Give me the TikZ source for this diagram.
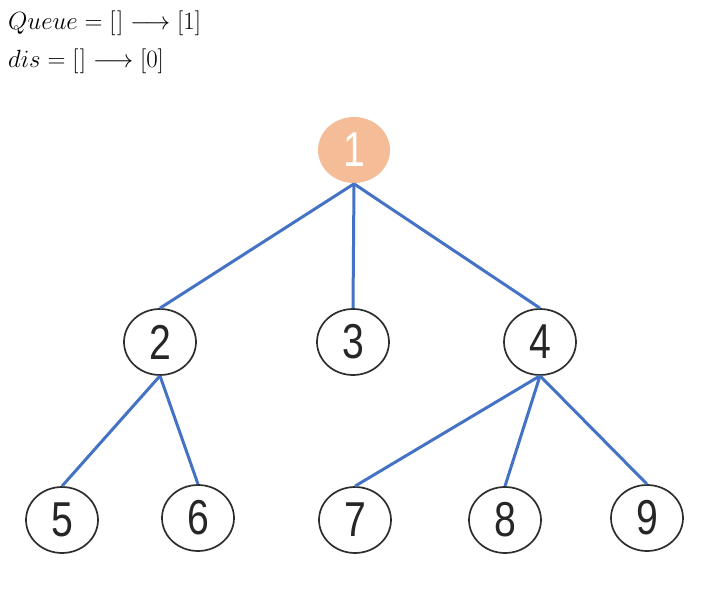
\documentclass[tikz,border=0pt]{standalone}
\usepackage{fontspec}
\usepackage{graphicx}
\newfontfamily\digitfont{Liberation Sans}
\usetikzlibrary{shapes.geometric}
\definecolor{edgeblue}{RGB}{68,114,196}
\definecolor{rootfill}{RGB}{245,188,152}
\definecolor{ringgray}{RGB}{45,45,45}
\newcommand{\dg}[1]{\scalebox{0.8}[1]{#1}}
\begin{document}
\begin{tikzpicture}[x=1pt,y=-1pt,
  vert/.style={ellipse,draw=ringgray,line width=1.7pt,minimum width=72pt,minimum height=66pt,inner sep=0pt,font=\digitfont\fontsize{49}{49}\selectfont,text=black!85},
  rootv/.style={vert,draw=none,fill=rootfill,text=white},
  edge/.style={edgeblue,line width=3pt},
  toptext/.style={anchor=base west,inner sep=0pt,font=\fontsize{25.5}{25.5}\selectfont}]
\useasboundingbox (0,0) rectangle (715,593);
\node[toptext] (q) at (8,30) {$Queue=[\mkern1mu]\longrightarrow[1]$};
\node[toptext] (d) at (8,68) {$dis=[\mkern1mu]\longrightarrow[0]$};
\node[rootv] (n1) at (354,150) {\dg{1}};
\node[vert] (n2) at (160,342) {\dg{2}};
\node[vert] (n3) at (353,342) {\dg{3}};
\node[vert] (n4) at (540,342) {\dg{4}};
\node[vert] (n5) at (62,520) {\dg{5}};
\node[vert] (n6) at (198,518) {\dg{6}};
\node[vert] (n7) at (355,520) {\dg{7}};
\node[vert] (n8) at (505,520) {\dg{8}};
\node[vert] (n9) at (647,518) {\dg{9}};
\draw[edge] (n1.south) -- (n2.north);
\draw[edge] (n1.south) -- (n3.north);
\draw[edge] (n1.south) -- (n4.north);
\draw[edge] (n2.south) -- (n5.north);
\draw[edge] (n2.south) -- (n6.north);
\draw[edge] (n4.south) -- (n7.north);
\draw[edge] (n4.south) -- (n8.north);
\draw[edge] (n4.south) -- (n9.north);
\end{tikzpicture}
\end{document}
